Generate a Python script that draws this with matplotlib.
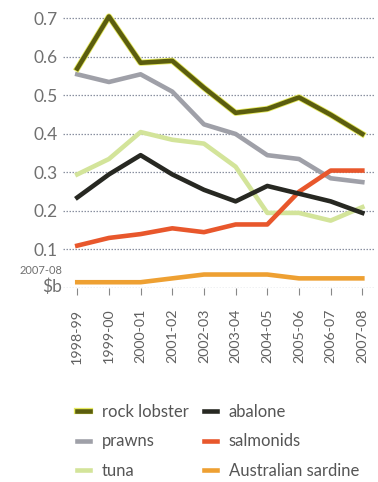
import numpy as np
import matplotlib.pyplot as plt
import matplotlib.patheffects as pe

plt.rcParams['font.family'] = ['Lato', 'DejaVu Sans']

# financial years and gross value ($b, 2007-08 dollars)
years = ['1998-99', '1999-00', '2000-01', '2001-02', '2002-03',
         '2003-04', '2004-05', '2005-06', '2006-07', '2007-08']
rock_lobster = [0.57, 0.705, 0.585, 0.59, 0.52, 0.455, 0.465, 0.495, 0.45, 0.40]
prawns = [0.555, 0.535, 0.555, 0.51, 0.425, 0.40, 0.345, 0.335, 0.285, 0.275]
tuna = [0.295, 0.335, 0.405, 0.385, 0.375, 0.315, 0.195, 0.195, 0.175, 0.21]
abalone = [0.235, 0.295, 0.345, 0.295, 0.255, 0.225, 0.265, 0.245, 0.225, 0.195]
salmonids = [0.11, 0.13, 0.14, 0.155, 0.145, 0.165, 0.165, 0.25, 0.305, 0.305]
sardine = [0.015, 0.015, 0.015, 0.025, 0.035, 0.035, 0.035, 0.025, 0.025, 0.025]
yticks = [0, 0.1, 0.2, 0.3, 0.4, 0.5, 0.6, 0.7]

x = np.arange(len(years))

fig = plt.figure(figsize=(3.78, 4.82), dpi=100)
ax = fig.add_axes([63/378, 194/482, 312/378, 278/482])

for yv in yticks:
    ax.axhline(yv, color='#8a90a0', lw=0.9, ls=(0, (1.2, 1.2)), zorder=1)

lw = 3.3
ax.plot(x, tuna, color='#d3e49a', lw=lw, label='tuna', zorder=3)
ax.plot(x, prawns, color='#9fa0a8', lw=lw, label='prawns', zorder=3)
ax.plot(x, sardine, color='#eea032', lw=lw, label='Australian sardine', zorder=3)
ax.plot(x, salmonids, color='#e8572c', lw=lw, label='salmonids', zorder=4)
ax.plot(x, abalone, color='#272822', lw=lw, label='abalone', zorder=4)
ax.plot(x, rock_lobster, color='#5b5d0e', lw=lw, label='rock lobster', zorder=5,
        path_effects=[pe.Stroke(linewidth=lw + 1.2, foreground='#e6ea60'), pe.Normal()])

ax.set_xlim(-0.45, 9.4)
ax.set_ylim(0, 0.722)
ax.set_yticks(yticks[1:])
ax.set_yticklabels(['0.1', '0.2', '0.3', '0.4', '0.5', '0.6', '0.7'])
ax.tick_params(axis='y', length=0, pad=4, labelsize=12.5, labelcolor='#707070')
ax.set_xticks(x)
ax.set_xticklabels(years, rotation=90)
ax.tick_params(axis='x', length=5, width=0.8, color='#888888', pad=10,
               labelsize=10.3, labelcolor='#606060')
for s in ax.spines.values():
    s.set_visible(False)

fig.text(62/378, 1 - 287/482, '$b', ha='right', va='center', fontsize=12.5, color='#707070')
fig.text(62/378, 1 - 271/482, '2007-08', ha='right', va='center', fontsize=8, color='#707070')

# legend in two columns below the axis
handles, labels = ax.get_legend_handles_labels()
hmap = dict(zip(labels, handles))
leg_order = ['rock lobster', 'prawns', 'tuna', 'abalone', 'salmonids', 'Australian sardine']
fig.legend([hmap[k] for k in leg_order], leg_order, ncol=2, loc='upper left',
           bbox_to_anchor=(62/378, 1 - 389/482), frameon=False, fontsize=12,
           handlelength=0.8, handletextpad=0.7, columnspacing=0.9, labelspacing=0.8,
           labelcolor='#555555')

fig.savefig('out.png', dpi=100)
